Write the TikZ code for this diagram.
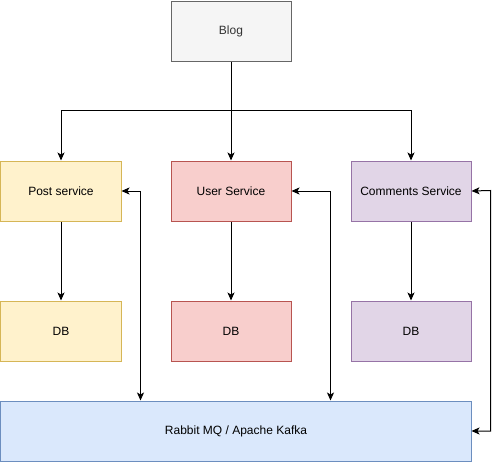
\documentclass[tikz,border=0pt]{standalone}
\usepackage{fontspec}
\setmainfont{Liberation Sans}
\usetikzlibrary{arrows.meta}
\definecolor{gfill}{HTML}{F5F5F5}\definecolor{gline}{HTML}{666666}\definecolor{gtext}{HTML}{333333}
\definecolor{yfill}{HTML}{FFF2CC}\definecolor{yline}{HTML}{D6B656}
\definecolor{rfill}{HTML}{F8CECC}\definecolor{rline}{HTML}{B85450}
\definecolor{pfill}{HTML}{E1D5E7}\definecolor{pline}{HTML}{9673A6}
\definecolor{bfill}{HTML}{DAE8FC}\definecolor{bline}{HTML}{6C8EBF}
\tikzset{
  box/.style={draw, line width=1pt, minimum width=120pt, minimum height=60pt, inner sep=0pt, anchor=north west, font=\fontsize{12}{14}\selectfont},
  conn/.style={line width=1pt, -{Stealth[length=8pt,width=7pt,inset=2pt]}},
  conn2/.style={line width=1pt, {Stealth[length=8pt,width=7pt,inset=2pt]}-{Stealth[length=8pt,width=7pt,inset=2pt]}}
}
\begin{document}
\begin{tikzpicture}[x=1pt,y=-1pt]
\useasboundingbox (-0.5,-0.5) rectangle (499.5,460.5);
\node[box, fill=gfill, draw=gline, text=gtext] (blog) at (170,0) {Blog};
\node[box, fill=yfill, draw=yline] (post) at (0,160) {Post service};
\node[box, fill=rfill, draw=rline] (user) at (170,160) {User Service};
\node[box, fill=pfill, draw=pline] (comm) at (350,160) {Comments Service};
\node[box, fill=yfill, draw=yline] (db1) at (0,300) {DB};
\node[box, fill=rfill, draw=rline] (db2) at (170,300) {DB};
\node[box, fill=pfill, draw=pline] (db3) at (350,300) {DB};
\node[box, fill=bfill, draw=bline, minimum width=470pt] (mq) at (0,400) {Rabbit MQ / Apache Kafka};
\coordinate (j) at (230,110);
\coordinate (p1) at (140,400);
\coordinate (p2) at (330,400);
\coordinate (p3) at (490,190);
\draw[conn] (blog) -- (user);
\draw[conn] (j) -| (post.north);
\draw[conn] (j) -| (comm.north);
\draw[conn] (post) -- (db1);
\draw[conn] (user) -- (db2);
\draw[conn] (comm) -- (db3);
\draw[conn2] (post.east) -| (p1);
\draw[conn2] (user.east) -| (p2);
\draw[conn2] (comm.east) -- (p3) |- (mq.east);
\end{tikzpicture}
\end{document}
